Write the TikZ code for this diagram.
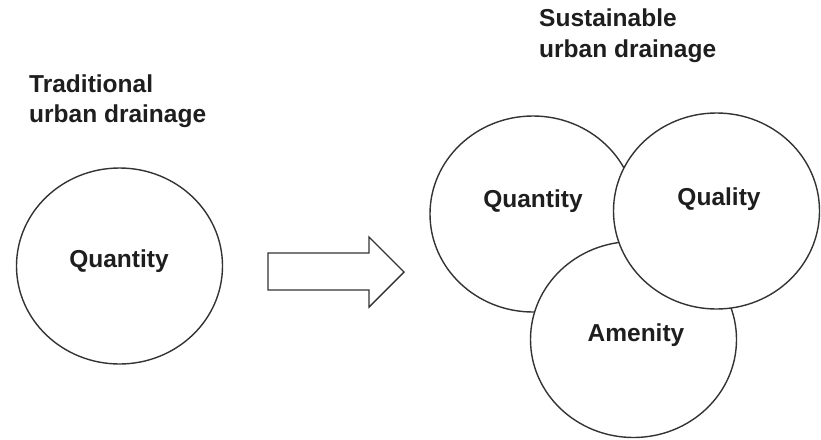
\documentclass[tikz,border=0pt]{standalone}
\usepackage{fontspec}
\setmainfont{Liberation Sans}
\usetikzlibrary{shapes.geometric}
\definecolor{ink}{HTML}{1E1E1E}
\definecolor{edge}{HTML}{333333}
\begin{document}
\begin{tikzpicture}[x=1pt,y=-1pt,
  blob/.style={draw=edge,line width=1.4pt,fill=white,ellipse,inner sep=0pt,minimum width=206pt,minimum height=196pt},
  lbl/.style={anchor=base,inner sep=0pt,text=ink,font=\fontsize{24.5}{29}\selectfont\bfseries},
  ttl/.style={anchor=base west,inner sep=0pt,text=ink,font=\fontsize{24.5}{29}\selectfont\bfseries},
  hollow/.style={draw=edge,line width=1.4pt,fill=white,line join=miter}]
\useasboundingbox[fill=white] (0,0) rectangle (821,439);
% titles
\node[ttl] (t1) at (29,92) {Traditional};
\node[ttl] (t2) at (29,122) {urban drainage};
\node[ttl] (s1) at (539,27) {Sustainable};
\node[ttl] (s2) at (539,57) {urban drainage};
% left circle
\node[blob] (trad) at (119.5,266) {};
\node[lbl] (tradq) at (119,267) {Quantity};
% arrow
\coordinate (a1) at (268,253);
\coordinate (a2) at (369,253);
\coordinate (a3) at (369,237);
\coordinate (a4) at (404,272);
\coordinate (a5) at (369,307);
\coordinate (a6) at (369,290);
\coordinate (a7) at (268,290);
\draw[hollow] (a1) -- (a2) -- (a3) -- (a4) -- (a5) -- (a6) -- (a7) -- cycle;
% right circles
\node[blob] (qty) at (533,214) {};
\node[blob] (amen) at (633.5,339.5) {};
\node[blob] (qual) at (716.5,211) {};
\node[lbl] (qtyl) at (533,207) {Quantity};
\node[lbl] (quall) at (719,205) {Quality};
\node[lbl] (amenl) at (636,341) {Amenity};
\end{tikzpicture}
\end{document}
